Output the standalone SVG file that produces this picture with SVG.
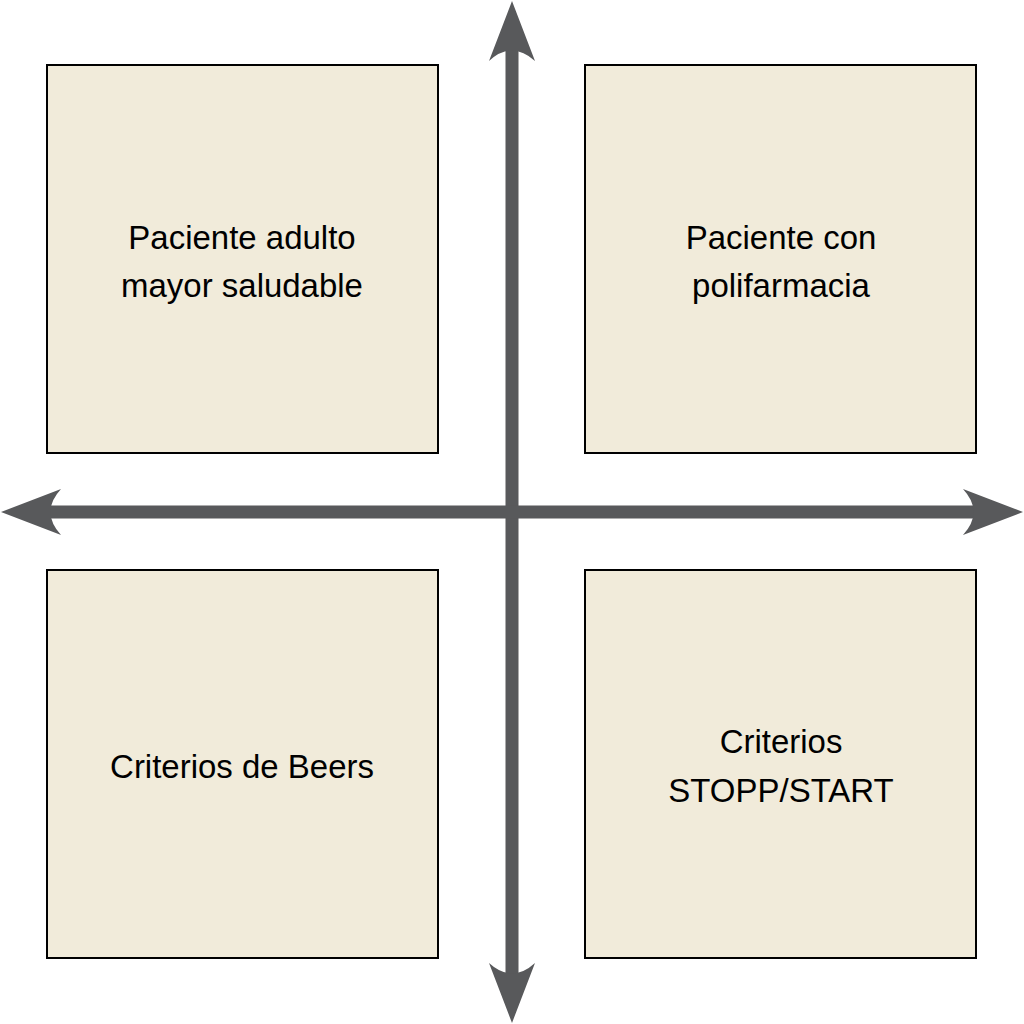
<svg xmlns="http://www.w3.org/2000/svg" width="1024" height="1024" viewBox="0 0 1024 1024">
  <style>
    .box { fill: #F1EBDA; stroke: #000000; stroke-width: 2; }
    .lbl { font-family: "Liberation Sans", Arial, sans-serif; font-size: 34px; fill: #000000; text-anchor: middle; }
    .shaft { stroke: #58595B; stroke-width: 13; fill: none; }
    .head { fill: #58595B; }
  </style>
  <defs>
    <path id="ah" d="M0,0 L23,60 Q0,39 -23,60 Z"/>
  </defs>
  <rect width="1024" height="1024" fill="#FFFFFF"/>
  <g id="connectors">
    <line class="shaft" x1="512" y1="48" x2="512" y2="976"/>
    <line class="shaft" x1="48" y1="512" x2="976" y2="512"/>
    <use href="#ah" class="head" transform="translate(512,1)"/>
    <use href="#ah" class="head" transform="translate(512,1023) rotate(180)"/>
    <use href="#ah" class="head" transform="translate(1,512) rotate(-90)"/>
    <use href="#ah" class="head" transform="translate(1023,512) rotate(90)"/>
  </g>
  <g id="node-tl">
    <rect class="box" x="47" y="65" width="391" height="388"/>
    <text class="lbl" transform="translate(242,249) scale(0.97,1)">Paciente adulto</text>
    <text class="lbl" transform="translate(242,297) scale(0.97,1)">mayor saludable</text>
  </g>
  <g id="node-tr">
    <rect class="box" x="585" y="65" width="391" height="388"/>
    <text class="lbl" transform="translate(781,249) scale(0.97,1)">Paciente con</text>
    <text class="lbl" transform="translate(781,297) scale(0.97,1)">polifarmacia</text>
  </g>
  <g id="node-bl">
    <rect class="box" x="47" y="570" width="391" height="388"/>
    <text class="lbl" transform="translate(242,778) scale(0.97,1)">Criterios de Beers</text>
  </g>
  <g id="node-br">
    <rect class="box" x="585" y="570" width="391" height="388"/>
    <text class="lbl" transform="translate(781,753) scale(0.97,1)">Criterios</text>
    <text class="lbl" transform="translate(781,802) scale(0.97,1)">STOPP/START</text>
  </g>
</svg>
